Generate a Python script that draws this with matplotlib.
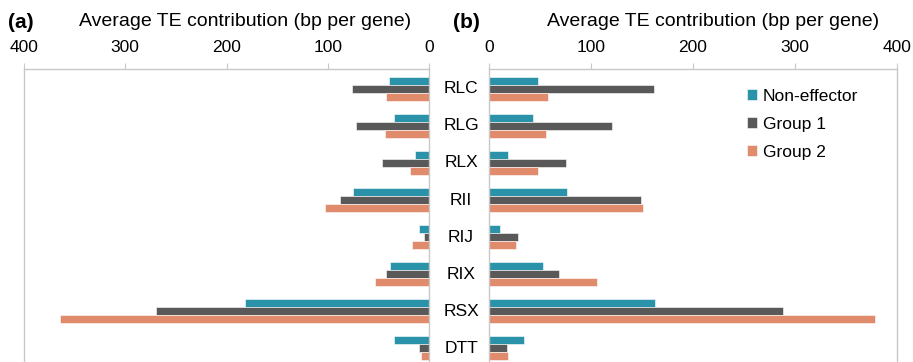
import matplotlib.pyplot as plt
import numpy as np
from matplotlib.patches import Patch

plt.rcParams['font.family'] = ['Liberation Sans', 'DejaVu Sans']

categories = ['RLC', 'RLG', 'RLX', 'RII', 'RIJ', 'RIX', 'RSX', 'DTT']
series_names = ['Non-effector', 'Group 1', 'Group 2']
colors = ['#2b93a9', '#595959', '#e08b6c']

# panel (a)
a_noneff = [40, 35, 14, 75, 10, 39, 182, 35]
a_group1 = [76, 72, 46, 88, 5, 42, 270, 10]
a_group2 = [42, 43, 19, 103, 17, 53, 364, 8]

# panel (b)
b_noneff = [48, 43, 19, 76, 11, 53, 163, 34]
b_group1 = [162, 121, 75, 149, 28, 69, 288, 18]
b_group2 = [58, 56, 48, 151, 26, 106, 378, 19]

ticks = [0, 100, 200, 300, 400]
xlabel = 'Average TE contribution (bp per gene)'

W, H = 913, 362
fig = plt.figure(figsize=(W / 100, H / 100), dpi=100)

y = np.arange(len(categories))
bh = 0.215
spine_col = '#c8c8c8'


def setup(ax, data, invert):
    for i, (vals, c) in enumerate(zip(data, colors)):
        ax.barh(y + (i - 1) * bh, vals, height=bh, color=c,
                edgecolor='white', linewidth=0.4)
    ax.set_xlim(0, 400)
    if invert:
        ax.invert_xaxis()
    ax.set_ylim(len(categories) - 0.5, -0.53)
    ax.set_yticks([])
    ax.xaxis.tick_top()
    ax.set_xticks(ticks)
    ax.set_xticklabels([str(t) for t in ticks])
    ax.tick_params(axis='x', direction='out', length=4, width=0.8,
                   color=spine_col, labelsize=12.5, pad=6)
    for s in ['top', 'left', 'right']:
        ax.spines[s].set_color(spine_col)
        ax.spines[s].set_linewidth(1)
    ax.spines['bottom'].set_visible(False)


bottom = (H - 367) / H
top = (H - 69) / H
ax1 = fig.add_axes([24 / W, bottom, 405 / W, top - bottom])
ax2 = fig.add_axes([489 / W, bottom, 408 / W, top - bottom])

setup(ax1, [a_noneff, a_group1, a_group2], True)
setup(ax2, [b_noneff, b_group1, b_group2], False)

# category labels in the gap between panels
for i, cat in enumerate(categories):
    yy = ax1.transData.transform((0, i))[1]
    fig.text(461 / W, yy / fig.dpi / fig.get_figheight(), cat,
             ha='center', va='center', fontsize=12.5)

fig.text(245 / W, 1 - 22 / H, xlabel, ha='center', va='center', fontsize=14)
fig.text(713 / W, 1 - 22 / H, xlabel, ha='center', va='center', fontsize=14)
fig.text(8 / W, 1 - 23 / H, '(a)', ha='left', va='center', fontsize=15,
         fontweight='bold')
fig.text(453 / W, 1 - 23 / H, '(b)', ha='left', va='center', fontsize=15,
         fontweight='bold')

handles = [Patch(facecolor=c, edgecolor='white', linewidth=0.4) for c in colors]
ax2.legend(handles, series_names, loc='upper left',
           bbox_to_anchor=((740 - 489) / 408, 1 - (82 - 69) / 297),
           frameon=False, fontsize=12.5, handlelength=0.6, handleheight=0.6,
           handletextpad=0.3, labelspacing=0.75, borderaxespad=0)

fig.savefig('out.png', dpi=100)
